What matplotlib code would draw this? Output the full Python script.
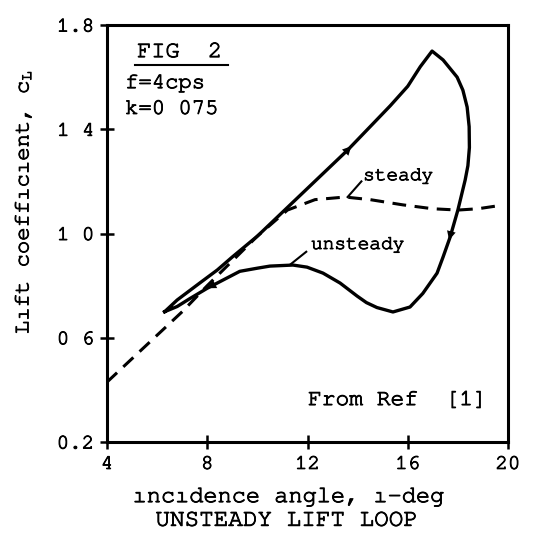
import matplotlib.pyplot as plt
import matplotlib.patheffects as pe
from matplotlib import font_manager

# prefer a slab-serif typewriter face when one is around
installed = {f.name for f in font_manager.fontManager.ttflist}
mono = [f for f in ['Nimbus Mono PS', 'FreeMono', 'Courier 10 Pitch',
                    'Liberation Mono'] if f in installed][0]
plt.rcParams['font.family'] = [mono, 'DejaVu Sans Mono']
plt.rcParams['mathtext.fontset'] = 'custom'
plt.rcParams['mathtext.rm'] = mono
plt.rcParams['mathtext.it'] = mono

# thicken the thin typewriter strokes a little
ink = [pe.withStroke(linewidth=0.65, foreground='black')]

# unsteady lift loop, traced clockwise from the lower-left tip
loop_i = [6.3, 6.8, 7.7, 8.4, 9.0, 10.0, 11.2, 12.4, 13.6, 14.5, 15.3, 16.0,
          16.5, 16.97, 17.41, 17.97, 18.2, 18.37, 18.45, 18.46, 18.4, 18.29,
          18.0, 17.69, 17.41, 17.17, 16.6, 16.09, 15.41, 14.77, 14.35, 13.98,
          13.3, 12.62, 11.98, 11.42, 10.5, 10.0, 9.3, 8.6, 8.0, 7.3, 6.8, 6.3]
loop_cl = [0.70, 0.745, 0.81, 0.86, 0.91, 0.99, 1.10, 1.21, 1.32, 1.41, 1.49,
           1.565, 1.64, 1.70, 1.666, 1.60, 1.55, 1.485, 1.41, 1.33, 1.26,
           1.205, 1.09, 0.986, 0.91, 0.848, 0.77, 0.718, 0.699, 0.716, 0.735,
           0.76, 0.81, 0.848, 0.871, 0.879, 0.875, 0.867, 0.855, 0.82, 0.79,
           0.75, 0.72, 0.70]

# steady lift curve
steady_i = [4.0, 5.0, 6.0, 7.0, 8.0, 9.0, 10.0, 11.2, 12.3, 13.5, 14.5, 15.8,
            17.0, 18.0, 18.8, 19.5]
steady_cl = [0.43, 0.52, 0.61, 0.70, 0.80, 0.895, 0.99, 1.09, 1.13, 1.14,
             1.13, 1.11, 1.095, 1.09, 1.095, 1.105]

xticks = [4, 8, 12, 16, 20]
yticks = [0.2, 0.6, 1.0, 1.4, 1.8]
ytick_labels = ['0.2', '0 6', '1 0', '1 4', '1.8']

fig = plt.figure(figsize=(5.34, 5.38), dpi=100)
ax = fig.add_axes([0.2004, 0.1784, 0.7509, 0.7751])

ax.plot(loop_i, loop_cl, color='black', lw=2.4, solid_joinstyle='round')
ax.plot(steady_i, steady_cl, color='black', lw=2.2, dashes=(4.5, 2.8))

# direction arrows on the loop
arrows = [((13.45, 1.305), (13.75, 1.335)),
          ((17.8, 1.03), (17.65, 0.975)),
          ((8.3, 0.805), (8.0, 0.79))]
for a, b in arrows:
    ax.annotate('', xy=b, xytext=a,
                arrowprops=dict(arrowstyle='-|>', color='black', lw=0,
                                mutation_scale=16, shrinkA=0, shrinkB=0))

# curve labels with leader lines
ax.plot([13.6, 14.15], [1.14, 1.20], color='black', lw=1.5)
ax.plot([11.3, 11.95], [0.88, 0.93], color='black', lw=1.5)
ax.plot([5.12, 8.83], [1.647, 1.647], color='black', lw=1.5)

labels = [ax.text(14.22, 1.22, 'steady', fontsize=14),
          ax.text(12.14, 0.956, 'unsteady', fontsize=14),
          ax.text(5.2, 1.696, 'FIG  2', fontsize=17),
          ax.text(4.72, 1.577, 'f=4cps', fontsize=16),
          ax.text(4.72, 1.478, 'k=0 075', fontsize=16),
          ax.text(12.02, 0.361, 'From Ref  [1]', fontsize=16.5)]
for t in labels:
    t.set_va('center')
    t.set_ha('left')
    t.set_path_effects(ink)

ax.set_xlim(4, 20)
ax.set_ylim(0.2, 1.8)
ax.set_xticks(xticks)
ax.set_yticks(yticks)
ax.set_yticklabels(ytick_labels)
ax.tick_params(direction='inout', length=10, width=1.8, labelsize=15,
               pad=4)
ax.tick_params(axis='x', pad=5)
for t in ax.get_xticklabels() + ax.get_yticklabels():
    t.set_path_effects(ink)
for s in ax.spines.values():
    s.set_linewidth(2.2)

captions = [
    fig.text(23 / 534, 1 - 202 / 538, 'Lıft coeffıcıent, c$_\\mathrm{L}$',
             rotation=90, fontsize=16, ha='center', va='center'),
    fig.text(0.541, 0.076, 'ıncıdence angle, ı-deg', fontsize=17,
             ha='center', va='center'),
    fig.text(0.536, 0.032, 'UNSTEADY LIFT LOOP', fontsize=17.5,
             ha='center', va='center'),
]
for t in captions:
    t.set_path_effects(ink)

fig.savefig('out.png', dpi=100)
